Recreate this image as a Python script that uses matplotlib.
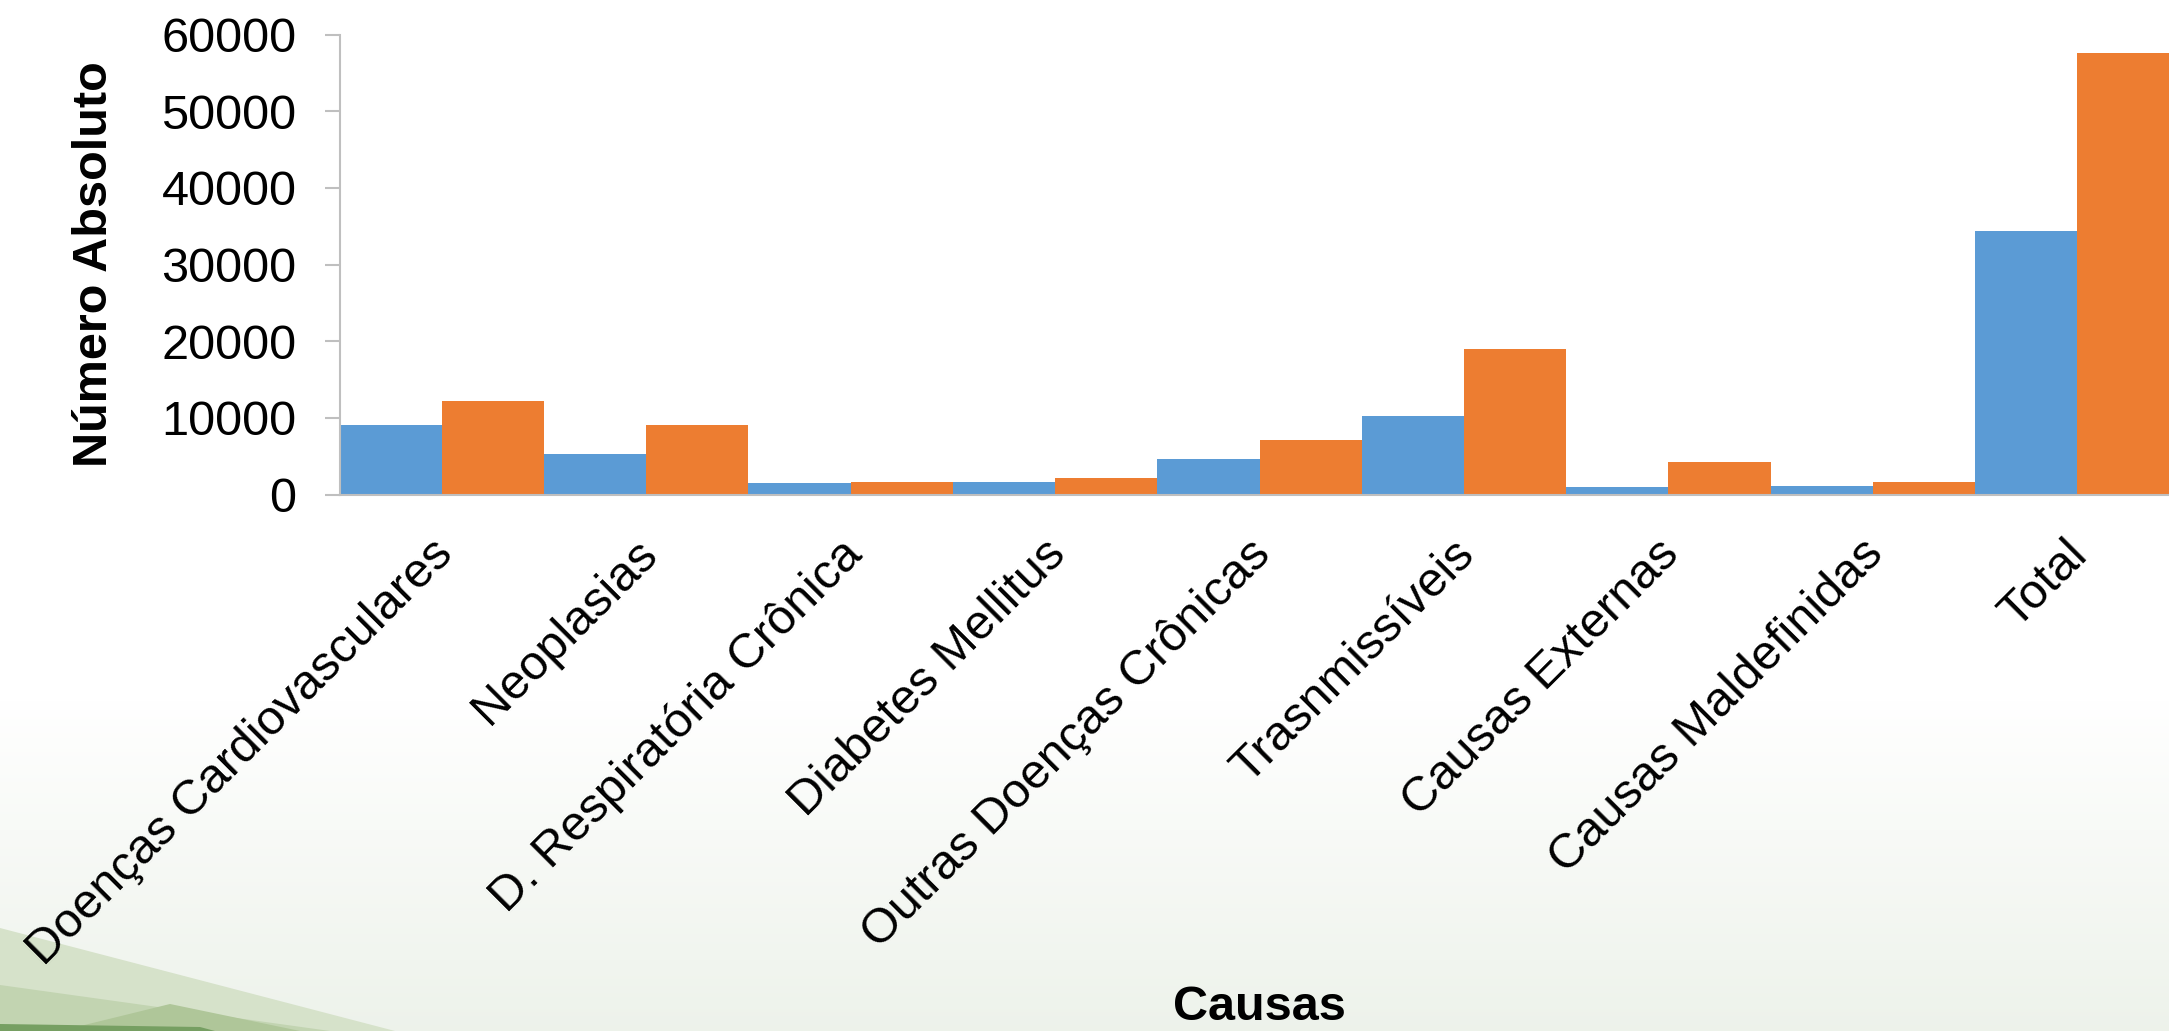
import matplotlib.pyplot as plt
import matplotlib.transforms as mtransforms
import numpy as np
from matplotlib.patches import Polygon

# data
causas = ['Doenças Cardiovasculares', 'Neoplasias', 'D. Respiratória Crônica',
          'Diabetes Mellitus', 'Outras Doenças Crônicas', 'Trasnmissíveis',
          'Causas Externas', 'Causas Maldefinidas', 'Total']
serie_azul = [9040, 5340, 1480, 1650, 4650, 10250, 960, 1130, 34400]
serie_laranja = [12210, 9040, 1610, 2090, 7170, 19030, 4300, 1650, 57600]
yticks = [0, 10000, 20000, 30000, 40000, 50000, 60000]

W, H = 2169, 1031
plt.rcParams['font.family'] = ['Liberation Sans', 'DejaVu Sans']

fig = plt.figure(figsize=(W / 100, H / 100), dpi=100)
fig.patch.set_facecolor('white')

# background: faint gradient at the bottom + green shapes bottom-left
bg = fig.add_axes([0, 0, 1, 1], zorder=-5)
grad = np.ones((H, 1, 3))
t = np.clip((np.arange(H) - 700) / (H - 700), 0, 1)[:, None]
grad[:, :, 0] = 1 - 0.07 * t
grad[:, :, 1] = 1 - 0.05 * t
grad[:, :, 2] = 1 - 0.08 * t
bg.imshow(grad, aspect='auto', extent=[0, W, H, 0])
bg.add_patch(Polygon([(0, 928), (395, 1031), (0, 1031)], closed=True,
                     facecolor='#d6e2ca', edgecolor='none'))
bg.add_patch(Polygon([(0, 985), (330, 1031), (0, 1031)], closed=True,
                     facecolor='#c2d4b1', edgecolor='none'))
bg.add_patch(Polygon([(60, 1031), (170, 1004), (300, 1031)], closed=True,
                     facecolor='#afc699', edgecolor='none'))
bg.add_patch(Polygon([(0, 1024), (200, 1027), (215, 1031), (0, 1031)], closed=True,
                     facecolor='#769f62', edgecolor='none'))
bg.set_xlim(0, W)
bg.set_ylim(H, 0)
bg.axis('off')

ax = fig.add_axes([339.5 / W, (H - 494.5) / H, 1840 / W, 460 / H])
ax.patch.set_alpha(0)

x = np.arange(len(causas))
ax.bar(x - 0.25, serie_azul, width=0.5, color='#5b9bd5')
ax.bar(x + 0.25, serie_laranja, width=0.5, color='#ed7d31')

ax.set_xlim(-0.5, len(causas) - 0.5)
ax.set_ylim(0, 60000)
ax.set_yticks(yticks)
ax.set_yticklabels([str(v) for v in yticks], fontsize=35)
ax.set_xticks(x)
ax.set_xticklabels([])

# rotated category labels, anchored at their upper-right corner
trans = mtransforms.blended_transform_factory(ax.transData, ax.transAxes)
trans = trans + mtransforms.ScaledTranslation(-12 / 100, -37 / 100, fig.dpi_scale_trans)
for xi, nome in zip(x, causas):
    ax.text(xi, 0, nome, transform=trans, fontsize=35, rotation=45,
            ha='right', va='top', rotation_mode='anchor')

for s in ['top', 'right']:
    ax.spines[s].set_visible(False)
for s in ['left', 'bottom']:
    ax.spines[s].set_color('#bfbfbf')
    ax.spines[s].set_linewidth(1.5)
ax.tick_params(axis='y', length=11, width=1.5, color='#bfbfbf', pad=20)
ax.tick_params(axis='x', length=0)

ax.set_ylabel('Número Absoluto', fontsize=35, fontweight='bold')
ax.yaxis.set_label_coords(-0.121, 0.5)
fig.text(0.5 * (339.5 + 2179.5) / W, 1 / H, 'Causas', fontsize=35,
         fontweight='bold', ha='center', va='bottom')

fig.savefig('out.png', dpi=100)
